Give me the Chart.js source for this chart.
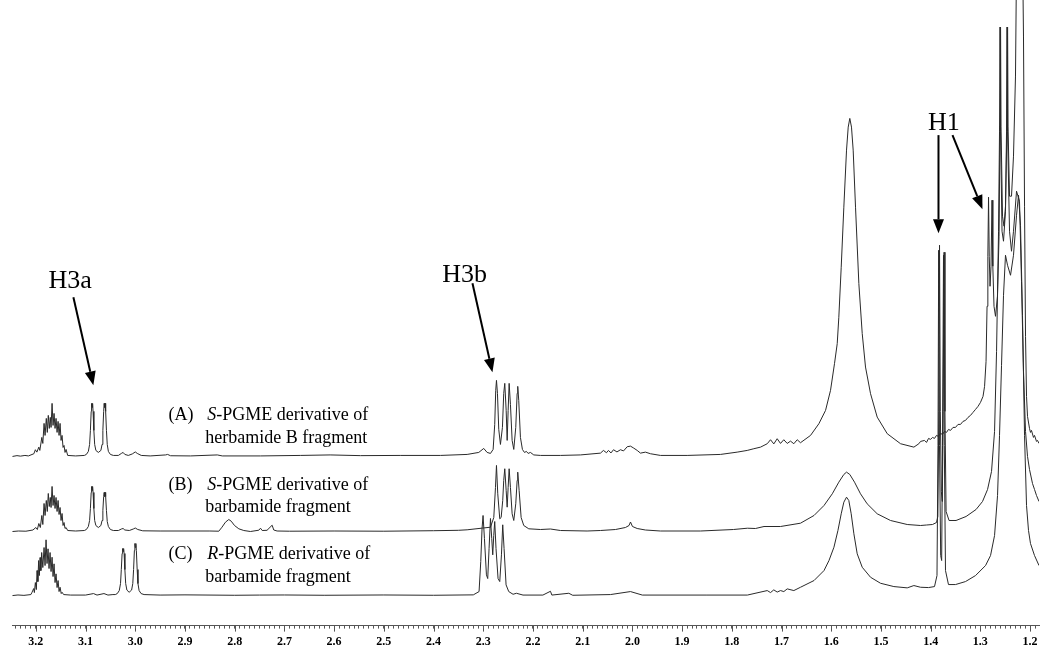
<!DOCTYPE html>
<html><head><meta charset="utf-8">
<script src="https://cdn.jsdelivr.net/npm/chart.js@4.4.1/dist/chart.umd.min.js"></script>
<style>html,body{margin:0;padding:0;background:#fff}#wrap{width:1050px;height:659px}</style>
</head><body><div id="wrap"><canvas id="c" width="1050" height="659"></canvas></div>
<script>
// ---------- data (chemical shift ppm, intensity above own baseline) ----------
const spectrumNames = ['A', 'B', 'C'];
const baselineOffsets = [169, 94, 30];

const spectrumA = [
[3.247,0],[3.238,0.8],[3.231,0.3],[3.222,1],[3.215,0.5],
[3.204,2.7],[3.201,6.7],[3.198,4.3],[3.194,9.3],[3.192,6],[3.188,19],[3.186,13],[3.1835,33],[3.1815,21],
[3.179,38],[3.177,24],[3.175,41],[3.173,28],[3.171,39],[3.1694,29],[3.1674,53],[3.1654,31],[3.1634,43],
[3.1614,28],[3.1594,38],[3.1573,24],[3.1553,35],[3.1533,21],[3.1513,33],[3.1493,16],[3.1473,21],[3.1453,9],
[3.1433,11],[3.1413,4],[3.1392,7],[3.136,1],[3.12,0.5],
[3.1024,1],[3.0984,2],[3.0944,5],[3.0919,12],[3.0903,26],[3.0887,45],[3.0879,53],[3.0869,49],[3.0859,53],
[3.0849,45],[3.0833,26],[3.0817,12],[3.0793,6],[3.0743,4],[3.0692,6],[3.0668,12],[3.0652,26],[3.0636,45],
[3.0626,53],[3.0616,49],[3.0606,53],[3.0596,45],[3.058,26],[3.0564,12],[3.0541,5],[3.0501,2],[3.0441,1],
[3.034,1],[3.028,3],[3.0245,4],[3.021,2],[3.014,1],[3.006,2.5],[3.0,4.5],[2.996,3],[2.988,1],[2.97,0.5],
[2.939,1.5],[2.935,2],[2.929,0.7],[2.889,0.5],[2.835,1.5],[2.825,0.5],[2.748,0.5],[2.668,1],[2.608,1.5],
[2.547,0.8],[2.467,1],[2.386,1],
[2.3324,2],[2.309,4],[2.299,8],[2.2922,4],[2.2855,3],[2.2801,7],[2.2769,32],[2.2749,66],[2.2734,76],
[2.2714,63],[2.2688,27],[2.2654,12],[2.2614,29],[2.2588,63],[2.2567,73],[2.2539,46],[2.2519,16],[2.2499,46],
[2.2479,73],[2.2453,52],[2.2419,16],[2.2386,7],[2.2346,29],[2.2318,63],[2.2306,70],[2.2286,56],[2.2252,19],
[2.2212,7],[2.2171,4],[2.2131,5],[2.2097,3],[2.2051,4],[2.1984,1.5],[2.1849,1],
[2.1447,1],[2.1045,1.5],[2.0642,3.3],[2.0582,6],[2.0521,3.7],[2.0481,6],[2.043,3.5],[2.038,6.7],[2.031,4.5],
[2.0239,6.7],[2.0178,5.5],[2.0104,9.7],[2.0038,10.3],[1.9972,8.3],[1.9903,6],[1.9837,3.3],[1.9737,4.3],
[1.9636,2.7],[1.9435,1],[1.8898,1],[1.8227,2],[1.7892,4.3],[1.769,6],[1.7557,7.7],[1.7422,9.3],[1.7287,12.7],
[1.7221,16.7],[1.7155,12.5],[1.7087,17.7],[1.702,13],[1.6954,16.7],[1.6885,13],[1.6819,15.3],[1.6752,12.7],
[1.6684,16.7],[1.6618,13.7],
[1.6416,21],[1.6248,32.7],[1.6114,46],[1.6014,66],[1.5933,93],[1.5879,112.7],[1.5847,139],[1.5799,189],
[1.5746,249],[1.5692,306],[1.5658,329],[1.5626,337.7],[1.5592,329],[1.5558,306],[1.5511,249],[1.5444,172.7],
[1.5376,122.7],[1.531,89.3],[1.5209,62.7],[1.5075,39.3],[1.4873,22.7],[1.4605,12.7],[1.4337,9.3],[1.4237,12.7],
[1.4203,15],[1.4123,16],[1.4083,14],[1.4042,18],[1.4002,17],[1.3962,19],[1.3922,18],[1.3882,21],[1.3842,20],
[1.3801,23],[1.3761,22],[1.3721,25],[1.3681,24],[1.364,27],[1.36,26],[1.355,29],[1.35,29],[1.3449,32],
[1.3399,32],[1.3349,35],[1.3298,36],[1.3248,39],[1.3198,41],[1.3148,44],[1.3097,47],[1.3047,50],[1.2997,54],
[1.2946,60],[1.2915,70],[1.2885,95],[1.2865,150],[1.2849,200],[1.2835,259],[1.2821,200],[1.2805,170],
[1.2785,190],[1.2765,256],[1.2749,190],[1.2725,150],[1.2695,140],[1.2655,160],[1.2624,220],[1.2604,330],
[1.2594,429],[1.2584,330],[1.2554,240],[1.2524,230],[1.2494,250],[1.2464,330],[1.2453,429],[1.2443,330],
[1.2413,260],[1.2373,260],[1.2333,300],[1.2293,380],[1.2252,600],[1.2172,600],[1.2132,420],[1.2111,250],
[1.2091,120],[1.2071,60],[1.2051,40],[1.2011,28],[1.1991,24],[1.1971,26],[1.1931,19],[1.191,21],[1.187,15],
[1.185,16],[1.182,13]
];

const spectrumB = [
[3.247,0],[3.235,0.5],[3.22,0.3],[3.206,1.5],
[3.2,4],[3.197,2],[3.194,8],[3.191,4],[3.188,16],[3.186,7],[3.1835,28],[3.1815,16],[3.179,31],[3.177,20],
[3.175,38],[3.173,25],[3.171,34],[3.1694,24],[3.1674,45],[3.1654,26],[3.1634,36],[3.1614,23],[3.1594,34],
[3.1573,20],[3.1553,31],[3.1533,17],[3.1513,24],[3.1493,11],[3.1473,18],[3.1453,6],[3.1433,9],[3.1413,3],
[3.1392,4],[3.136,1],[3.12,0.5],
[3.1024,1],[3.0984,2],[3.0944,5],[3.0919,11],[3.0903,23],[3.0887,39],[3.0879,45],[3.0869,41],[3.0859,45],
[3.0849,39],[3.0833,23],[3.0817,11],[3.0793,6],[3.0743,4],[3.0692,6],[3.0668,11],[3.0652,21],[3.0636,35],
[3.0626,39],[3.0616,35],[3.0606,39],[3.0596,35],[3.058,21],[3.0564,10],[3.0541,5],[3.0501,2],[3.0441,1],
[3.034,1],[3.028,2.5],[3.0245,3],[3.021,1.5],[3.012,1],[3.004,2.5],[3.0,3.5],[2.995,2],[2.985,0.7],[2.95,0.5],
[2.85,0.5],[2.832,0.3],[2.8256,4.3],[2.8186,9.3],[2.8119,12],[2.807,10.3],[2.8004,6],[2.7917,2.7],[2.7817,1],
[2.7683,0],[2.7515,1.3],[2.7481,3.3],[2.7447,1],[2.735,1.2],[2.7247,6.3],[2.7214,1.5],[2.7147,0.5],[2.69,0.3],
[2.6,0.5],[2.5,0.3],[2.4,0.8],[2.35,1.2],[2.3324,1.7],[2.2855,4.3],[2.2788,14],[2.2754,44],[2.2734,66],
[2.2708,37.7],[2.2668,12.7],[2.264,14],[2.2608,31],[2.2588,51],[2.2567,62.7],[2.2539,41],[2.2519,24.3],
[2.2499,44],[2.2479,62.7],[2.2453,44],[2.2419,17.7],[2.2386,11],[2.2346,27.7],[2.2318,51],[2.2306,59.3],
[2.2278,41],[2.2238,14],[2.2185,6],[2.2084,2.7],[2.1849,2],[2.1648,2.5],[2.1447,1],[2.0911,0.5],[2.0642,1],
[2.0339,2],[2.014,4],[2.0067,6],[2.0038,9.5],[1.9998,5],[1.9903,3],[1.9737,1.5],[1.9435,0.5],[1.863,0.5],
[1.7966,2],[1.7687,3.3],[1.7524,3],[1.7352,5],[1.702,5],[1.6618,8.3],
[1.6346,16],[1.6145,26],[1.5978,37.7],[1.5847,49.3],[1.5746,57],[1.5692,59.3],[1.5626,57],[1.5531,49.3],
[1.5411,37.7],[1.5277,27.7],[1.5075,17.7],[1.4807,11],[1.4471,7],[1.4203,6],
[1.4083,6.5],[1.3962,7],[1.3882,9],[1.3855,15],[1.3835,120],[1.3821,286],[1.3805,120],[1.3785,40],
[1.3765,30],[1.3749,120],[1.3729,279],[1.3712,120],[1.3689,20],[1.3629,11],[1.3489,11],[1.3287,15],[1.3086,22],
[1.2956,30],[1.2855,42],[1.2775,60],[1.2714,100],[1.2674,180],[1.2634,300],[1.2614,400],[1.2604,504],
[1.2594,400],[1.2564,300],[1.2534,290],[1.2494,320],[1.2473,400],[1.2463,504],[1.2453,400],[1.2413,300],
[1.2373,280],[1.2333,300],[1.2272,340],[1.2212,330],[1.2172,250],[1.2132,160],[1.2091,100],[1.2051,75],
[1.2011,62],[1.1951,48],[1.191,42],[1.187,36],[1.182,30]
];

const spectrumC = [
[3.247,0],[3.236,0.6],[3.224,0.2],[3.21,1],
[3.2077,3.3],[3.2044,7],[3.203,3],[3.201,13],[3.199,6],[3.1976,25],[3.196,14],[3.1944,35],[3.193,20],
[3.1915,38],[3.19,25],[3.1883,43],[3.186,28],[3.1835,48],[3.1815,30],[3.1795,55.7],[3.1775,32],[3.1755,46.7],
[3.1735,27],[3.1714,43],[3.1694,24],[3.1674,38.3],[3.1654,19],[3.1634,31.7],[3.1614,13],[3.1594,21.7],
[3.1573,8],[3.1553,15],[3.1533,4],[3.1513,8.3],[3.149,2],[3.1473,3.3],[3.1441,1],[3.13,0.5],[3.1,0.5],
[3.084,2],[3.077,0.5],[3.063,2],[3.055,0.5],[3.045,1],
[3.0402,1],[3.0362,2],[3.0322,5],[3.0297,12],[3.0281,26],[3.0265,42],[3.0255,47],[3.0245,44],[3.0235,47],
[3.0225,42],[3.0209,26],[3.0193,12],[3.0169,5.5],[3.0124,3.3],[3.0074,5.5],[3.005,12],[3.0034,26],
[3.0018,45],[3.0008,52],[2.9998,48],[2.9988,52],[2.9978,45],[2.9962,26],[2.9946,12],[2.9923,5],[2.9883,2],
[2.9823,1],[2.95,0.5],[2.9,0.7],[2.8,0.3],[2.75,0.5],[2.7,0.6],[2.62,0.3],[2.5,0.6],[2.4,0.3],
[2.32,0.7],[2.3084,4],[2.305,34],[2.3024,67],[2.3004,80],[2.2976,57],[2.2936,20.7],[2.291,17],[2.2883,47],
[2.2855,77],[2.2829,57],[2.2809,40.7],[2.2789,60],[2.2769,74],[2.2743,47],[2.2702,17],[2.2668,14],
[2.2634,40.7],[2.2608,70.7],[2.2581,47],[2.2541,10.7],[2.2487,4],[2.24,1.3],[2.2332,2.3],[2.22,0.5],
[2.18,0.5],[2.1648,4.3],[2.162,0.5],[2.1279,2.3],[2.12,0.3],[2.0441,1],[2.0038,4],[1.98,0.5],[1.85,0.5],
[1.7687,0.5],[1.7287,5],[1.7221,3],[1.7155,5.7],[1.7087,3.5],[1.702,5],[1.6953,4],[1.6885,6.7],[1.6752,5],
[1.6618,8.3],[1.6346,15],[1.6145,25],[1.6045,35],[1.5945,48.3],[1.5865,65],[1.5799,81.7],[1.5746,93.3],
[1.5692,98.3],[1.5646,95],[1.5598,81.7],[1.5544,61.7],[1.5477,41.7],[1.5376,28.3],[1.5209,18.3],[1.5008,12.3],
[1.474,9],[1.4471,7.7],[1.4337,10],[1.4203,8.3],
[1.4042,8],[1.3922,9],[1.3872,20],[1.3852,150],[1.3838,345],[1.3822,150],[1.3798,40],[1.3778,35],
[1.3761,150],[1.3741,340],[1.3725,150],[1.3701,25],[1.3641,11],[1.35,11],[1.3298,14],[1.3097,20],[1.2895,30],
[1.2795,40],[1.2714,60],[1.2654,100],[1.2614,160],[1.2574,230],[1.2534,300],[1.2494,340],[1.2453,330],
[1.2393,320],[1.2333,340],[1.2272,380],[1.2232,400],[1.2192,370],[1.2152,280],[1.2111,160],[1.2071,90],
[1.2031,65],[1.1991,52],[1.191,40],[1.182,30]
];

const majorTickLabels = ['3.2','3.1','3.0','2.9','2.8','2.7','2.6','2.5','2.4','2.3','2.2','2.1','2.0','1.9','1.8','1.7','1.6','1.5','1.4','1.3','1.2'];
const minorTickStep = 0.01;

const sampleLabels = [
  {prefix: '(A)', ital: 'S', rest: '-PGME derivative of', line2: 'herbamide B fragment'},
  {prefix: '(B)', ital: 'S', rest: '-PGME derivative of', line2: 'barbamide fragment'},
  {prefix: '(C)', ital: 'R', rest: '-PGME derivative of', line2: 'barbamide fragment'}
];
const peakNames = ['H3a', 'H3b', 'H1'];

// ---------- layout / style (annotation anchors in data units) ----------
const sampleLabelAnchor = {x0: 2.9334, x1: 2.8550, x2: 2.8590, y1: [205, 135, 67], y2: [182, 113, 44]};
const peakNameAnchor = [[3.1748, 337], [2.3823, 343], [1.4052, 495]];
const arrows = [[3.1245, 328, 3.0843, 240], [2.3217, 342, 2.2815, 253], [1.3842, 490, 1.3842, 392], [1.3560, 490, 1.2957, 416]];

const serif = '"Liberation Serif", "Times New Roman", serif';
const labelSize = 18;
const spectra = [spectrumA, spectrumB, spectrumC];

const minorTicks = [];
for (let i = 324; i >= 119; i--) minorTicks.push(+(i * minorTickStep).toFixed(2));

const annotationPlugin = {
  id: 'annot',
  afterDraw(chart) {
    const {ctx, scales: {x, y}, chartArea} = chart;
    ctx.save();
    ctx.strokeStyle = '#555'; ctx.lineWidth = 1;
    majorTickLabels.forEach(l => {
      const px = Math.round(x.getPixelForValue(parseFloat(l))) + 0.5;
      ctx.beginPath(); ctx.moveTo(px, chartArea.bottom); ctx.lineTo(px, chartArea.bottom + 6); ctx.stroke();
    });
    ctx.fillStyle = '#000';
    ctx.textBaseline = 'alphabetic';
    sampleLabels.forEach((s, i) => {
      const p0 = x.getPixelForValue(sampleLabelAnchor.x0);
      const p1 = x.getPixelForValue(sampleLabelAnchor.x1);
      const p2 = x.getPixelForValue(sampleLabelAnchor.x2);
      const y1 = y.getPixelForValue(sampleLabelAnchor.y1[i]);
      const y2 = y.getPixelForValue(sampleLabelAnchor.y2[i]);
      ctx.font = labelSize + 'px ' + serif;
      ctx.fillText(s.prefix, p0, y1);
      ctx.font = 'italic ' + labelSize + 'px ' + serif;
      ctx.fillText(s.ital, p1, y1);
      const w2 = ctx.measureText(s.ital).width;
      ctx.font = labelSize + 'px ' + serif;
      ctx.fillText(s.rest, p1 + w2, y1);
      ctx.fillText(s.line2, p2, y2);
    });
    ctx.font = '26px ' + serif;
    peakNames.forEach((n, i) => {
      ctx.fillText(n, x.getPixelForValue(peakNameAnchor[i][0]), y.getPixelForValue(peakNameAnchor[i][1]));
    });
    ctx.strokeStyle = '#000'; ctx.lineWidth = 2;
    arrows.forEach(a => {
      const x1 = x.getPixelForValue(a[0]), y1 = y.getPixelForValue(a[1]);
      const x2 = x.getPixelForValue(a[2]), y2 = y.getPixelForValue(a[3]);
      const ang = Math.atan2(y2 - y1, x2 - x1);
      const hl = 14, hw = 5.5;
      const bx = x2 - hl * Math.cos(ang), by = y2 - hl * Math.sin(ang);
      ctx.beginPath(); ctx.moveTo(x1, y1); ctx.lineTo(bx, by); ctx.stroke();
      ctx.beginPath();
      ctx.moveTo(x2, y2);
      ctx.lineTo(bx + hw * Math.sin(ang), by - hw * Math.cos(ang));
      ctx.lineTo(bx - hw * Math.sin(ang), by + hw * Math.cos(ang));
      ctx.closePath(); ctx.fill();
    });
    ctx.restore();
  }
};

new Chart(document.getElementById('c'), {
  type: 'line',
  data: {
    datasets: spectra.map((s, i) => ({
      label: spectrumNames[i],
      data: s.map(p => ({x: p[0], y: p[1] + baselineOffsets[i]})),
      borderColor: '#2a2a2a',
      borderWidth: 1,
      pointRadius: 0,
      tension: 0,
      fill: false
    }))
  },
  options: {
    responsive: false,
    animation: false,
    events: [],
    layout: {padding: {left: 12, right: 11, top: 0, bottom: 4}},
    plugins: {legend: {display: false}, tooltip: {enabled: false}},
    scales: {
      x: {
        type: 'linear', reverse: true, min: 1.182, max: 3.248,
        afterBuildTicks: axis => { axis.ticks = minorTicks.map(v => ({value: v})); },
        ticks: {
          autoSkip: false, maxRotation: 0, padding: 6, color: '#000',
          font: {family: serif, size: 12, weight: 'bold'},
          callback: v => { const l = majorTickLabels.find(t => Math.abs(parseFloat(t) - v) < 1e-6); return l || ''; }
        },
        grid: {drawOnChartArea: false, drawTicks: true, tickLength: 3, color: '#555', lineWidth: 1},
        border: {display: true, color: '#555', width: 1}
      },
      y: {display: false, min: 0, max: 625}
    }
  },
  plugins: [annotationPlugin]
});
</script></body></html>
